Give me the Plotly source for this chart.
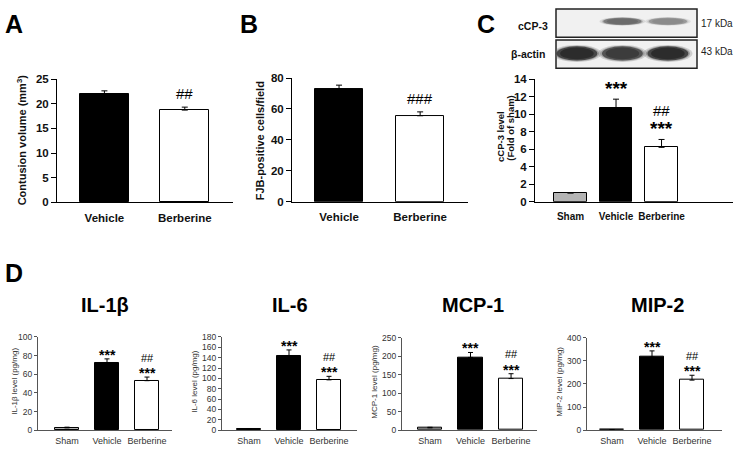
import plotly.graph_objects as go

W, H = 734, 453
FONT = "Liberation Sans, Arial, sans-serif"

# ---------------- data ----------------
groups2 = ["Vehicle", "Berberine"]
groups3 = ["Sham", "Vehicle", "Berberine"]

contusion_mean = [22.0, 18.7]
contusion_err = [0.6, 0.6]
contusion_sig = ["", "##"]

fjb_mean = [72.9, 55.6]
fjb_err = [2.5, 2.5]
fjb_sig = ["", "###"]

ccp3_mean = [1.0, 10.7, 6.2]
ccp3_err = [0.0, 1.0, 0.9]

il1b_mean = [2.5, 72.6, 53.1]
il1b_err = [0.7, 3.9, 3.9]
il6_mean = [2.0, 142.4, 97.2]
il6_err = [0.5, 12.6, 6.8]
mcp1_mean = [6.3, 196.6, 139.5]
mcp1_err = [1.5, 13.4, 13.1]
mip2_mean = [1.5, 315.8, 216.4]
mip2_err = [0.8, 27.0, 21.0]

sig_vs_sham = ["", "***", "***"]
sig_vs_vehicle = ["", "", "##"]

blot_lanes = ["Sham", "Vehicle", "Berberine"]
ccp3_band = [0.0, 0.6, 0.45]
actin_band = [0.9, 0.82, 0.9]

bar_colors = {"Sham": "#b4b4b4", "Vehicle": "#000000", "Berberine": "#ffffff"}


def px(x):
    return x / W


def py(y):
    return 1 - y / H


fig = go.Figure()
annotations = []
shapes = []

panels = [
    dict(i=1, cats=groups2, mean=contusion_mean, err=contusion_err, yr=[0, 25], dt=5,
         xp=(57, 233), yp=(75, 201.7), xr=[-0.59, 1.6], bw=0.61, style="big", xfs=11.5,
         sigA=["", ""], sigB=contusion_sig),
    dict(i=2, cats=groups2, mean=fjb_mean, err=fjb_err, yr=[0, 80], dt=20,
         xp=(292, 468), yp=(74, 201), xr=[-0.58, 1.59], bw=0.6, style="big", xfs=11.5,
         sigA=["", ""], sigB=fjb_sig),
    dict(i=3, cats=groups3, mean=ccp3_mean, err=ccp3_err, yr=[0, 14], dt=2,
         xp=(535, 733), yp=(75, 201), xr=[-0.78, 3.57], bw=0.72, style="big", xfs=10,
         sigA=sig_vs_sham, sigB=sig_vs_vehicle),
    dict(i=4, cats=groups3, mean=il1b_mean, err=il1b_err, yr=[0, 100], dt=20,
         xp=(38, 172), yp=(340, 435.7), xr=[-0.725, 2.625], bw=0.6, style="small", xfs=9,
         sigA=sig_vs_sham, sigB=sig_vs_vehicle, title="IL-1β", tx=105,
         ylab="IL-1β level (pg/mg)", lx=15),
    dict(i=5, cats=groups3, mean=il6_mean, err=il6_err, yr=[0, 180], dt=20,
         xp=(222, 357), yp=(340, 435.7), xr=[-0.675, 2.7], bw=0.6, style="small", xfs=9,
         sigA=sig_vs_sham, sigB=sig_vs_vehicle, title="IL-6", tx=290,
         ylab="IL-6 level (pg/mg)", lx=195),
    dict(i=6, cats=groups3, mean=mcp1_mean, err=mcp1_err, yr=[0, 250], dt=50,
         xp=(402, 537), yp=(340.7, 435.7), xr=[-0.69, 2.64], bw=0.6, style="small", xfs=9,
         sigA=sig_vs_sham, sigB=sig_vs_vehicle, title="MCP-1", tx=473,
         ylab="MCP-1 level (pg/mg)", lx=375),
    dict(i=7, cats=groups3, mean=mip2_mean, err=mip2_err, yr=[0, 400], dt=100,
         xp=(587, 722), yp=(340.7, 435.7), xr=[-0.625, 2.75], bw=0.6, style="small", xfs=9,
         sigA=sig_vs_sham, sigB=sig_vs_vehicle, title="MIP-2", tx=657,
         ylab="MIP-2 level (pg/mg)", lx=560),
]

layout_axes = {}
for p in panels:
    i = p["i"]
    xa = "x" if i == 1 else f"x{i}"
    ya = "y" if i == 1 else f"y{i}"
    big = p["style"] == "big"
    fig.add_trace(go.Bar(
        x=p["cats"], y=p["mean"], xaxis=xa, yaxis=ya, width=p["bw"],
        marker=dict(color=[bar_colors[c] for c in p["cats"]],
                    line=dict(color="#000000", width=1)),
        error_y=dict(type="data", array=p["err"], arrayminus=[0] * len(p["err"]),
                     symmetric=False, color="#000000", thickness=1, width=3 if big else 2.5),
        showlegend=False, hoverinfo="skip",
    ))
    lc = "#000000" if big else "#555555"
    tf = dict(family=FONT, size=11.5 if big else 8.5, color="#111111" if big else "#333333",
              weight="bold" if big else "normal")
    xtf = dict(family=FONT, size=p["xfs"], color="#111111" if big else "#333333",
               weight="bold" if big else "normal")
    layout_axes["xaxis" if i == 1 else f"xaxis{i}"] = dict(
        domain=[px(p["xp"][0]), px(p["xp"][1])], anchor=ya, type="category",
        range=p["xr"], showline=True, linecolor=lc, linewidth=1, tickangle=0,
        ticks="outside", ticklen=5 if big else 2, tickcolor="rgba(0,0,0,0)",
        tickfont=xtf, showgrid=False, zeroline=False, fixedrange=True,
    )
    layout_axes["yaxis" if i == 1 else f"yaxis{i}"] = dict(
        domain=[py(p["yp"][1]), py(p["yp"][0])], anchor=xa,
        range=p["yr"], dtick=p["dt"], tick0=0, showline=True, linecolor=lc, linewidth=1,
        ticks="outside", ticklen=5 if big else 3, tickcolor=lc, tickwidth=1,
        tickfont=tf, showgrid=False, zeroline=False, fixedrange=True,
    )
    for c, m, e, sa, sb in zip(p["cats"], p["mean"], p["err"], p["sigA"], p["sigB"]):
        top = m + e
        star_gap = 10.5 if big else 4.2
        hash_alone = 13.5 if big else 8
        hash_stacked = 28.5 if big else 19.5
        if sa:
            annotations.append(dict(
                x=c, y=top, xref=xa, yref=ya, text=sa, showarrow=False,
                yanchor="middle", yshift=star_gap,
                font=dict(family=FONT, size=19 if big else 14, color="#000", weight="bold"),
            ))
        if sb:
            annotations.append(dict(
                x=c, y=top, xref=xa, yref=ya, text=sb, showarrow=False,
                yanchor="middle", yshift=hash_stacked if sa else hash_alone,
                font=dict(family=FONT, size=15 if big else 11, color="#000"),
            ))
    if not big:
        annotations.append(dict(
            x=px(p["tx"]), y=py(307), xref="paper", yref="paper", text=p["title"],
            showarrow=False, xanchor="center", yanchor="middle",
            font=dict(family=FONT, size=20, color="#000", weight="bold"),
        ))
        annotations.append(dict(
            x=px(p["lx"]), y=py(386), xref="paper", yref="paper", text=p["ylab"],
            showarrow=False, xanchor="center", yanchor="middle", textangle=-90,
            font=dict(family=FONT, size=8, color="#333"),
        ))

# y axis titles for A-C
big_font = dict(family=FONT, size=11, color="#111", weight="bold")
c_font = dict(family=FONT, size=9.5, color="#111", weight="bold")
annotations.append(dict(x=px(22), y=py(138), xref="paper", yref="paper",
                        text="Contusion volume (mm<sup>3</sup>)", showarrow=False,
                        textangle=-90, xanchor="center", yanchor="middle", font=big_font))
annotations.append(dict(x=px(260), y=py(139), xref="paper", yref="paper",
                        text="FJB-positive cells/field", showarrow=False,
                        textangle=-90, xanchor="center", yanchor="middle", font=big_font))
annotations.append(dict(x=px(500.5), y=py(134), xref="paper", yref="paper",
                        text="cCP-3 level", showarrow=False,
                        textangle=-90, xanchor="center", yanchor="middle", font=c_font))
annotations.append(dict(x=px(511), y=py(126), xref="paper", yref="paper",
                        text="(Fold of sham)", showarrow=False,
                        textangle=-90, xanchor="center", yanchor="middle", font=c_font))

# panel letters
for letter, lx, ly in [("A", 13.5, 19), ("B", 249, 19), ("C", 486, 18.5), ("D", 14, 274)]:
    annotations.append(dict(x=px(lx), y=py(ly), xref="paper", yref="paper", text=letter,
                            showarrow=False, xanchor="center", yanchor="middle",
                            font=dict(family=FONT, size=25, color="#000", weight="bold")))

# ---------------- western blot ----------------
layout_axes["xaxis8"] = dict(domain=[px(556), px(697)], anchor="y8",
                             range=[-0.46, 2.64], visible=False, fixedrange=True)
layout_axes["yaxis8"] = dict(domain=[py(64), py(3)], anchor="x8", range=[0, 2],
                             visible=False, fixedrange=True)

for (y0, y1) in [(3, 32), (35, 64)]:
    shapes.append(dict(type="rect", xref="paper", yref="paper", x0=px(556), x1=px(697),
                       y0=py(y1), y1=py(y0), fillcolor="#f1f1f1",
                       line=dict(color="#222", width=1.5), layer="below"))


def band(idx, v, yc, hw, hh):
    if v <= 0:
        return
    for scale, op in [(1.2, 0.25), (1.08, 0.45), (1.0, 0.75), (0.82, 0.9)]:
        g = int(235 - 215 * v * (1.0 if scale <= 1.0 else 0.7))
        shapes.append(dict(type="circle", xref="x8", yref="y8",
                           x0=idx - hw * scale, x1=idx + hw * scale,
                           y0=yc - hh * scale, y1=yc + hh * scale,
                           fillcolor=f"rgb({g},{g},{g})", opacity=op, line=dict(width=0)))


for k, v in enumerate(ccp3_band):
    band(k, v, 1.58, 0.42, 0.12)
for k, v in enumerate(actin_band):
    band(k, v, 0.5, 0.45, 0.24)

small_lab = dict(family=FONT, size=10.5, color="#111", weight="bold")
annotations += [
    dict(x=px(550), y=py(21), xref="paper", yref="paper", text="cCP-3", showarrow=False,
         xanchor="right", yanchor="middle", font=small_lab),
    dict(x=px(547), y=py(49), xref="paper", yref="paper", text="β-actin", showarrow=False,
         xanchor="right", yanchor="middle", font=small_lab),
    dict(x=px(699), y=py(18), xref="paper", yref="paper", text="17 kDa", showarrow=False,
         xanchor="left", yanchor="middle", font=dict(family=FONT, size=10, color="#222")),
    dict(x=px(699), y=py(47), xref="paper", yref="paper", text="43 kDa", showarrow=False,
         xanchor="left", yanchor="middle", font=dict(family=FONT, size=10, color="#222")),
]

fig.update_layout(
    width=W, height=H, margin=dict(l=0, r=0, t=0, b=0),
    paper_bgcolor="white", plot_bgcolor="rgba(0,0,0,0)",
    bargap=0, annotations=annotations, shapes=shapes,
    font=dict(family=FONT), showlegend=False,
    **layout_axes,
)

fig.write_html("out.html", config={"displayModeBar": False},
               post_script="document.body.style.margin='0px';document.body.style.overflow='hidden';")
